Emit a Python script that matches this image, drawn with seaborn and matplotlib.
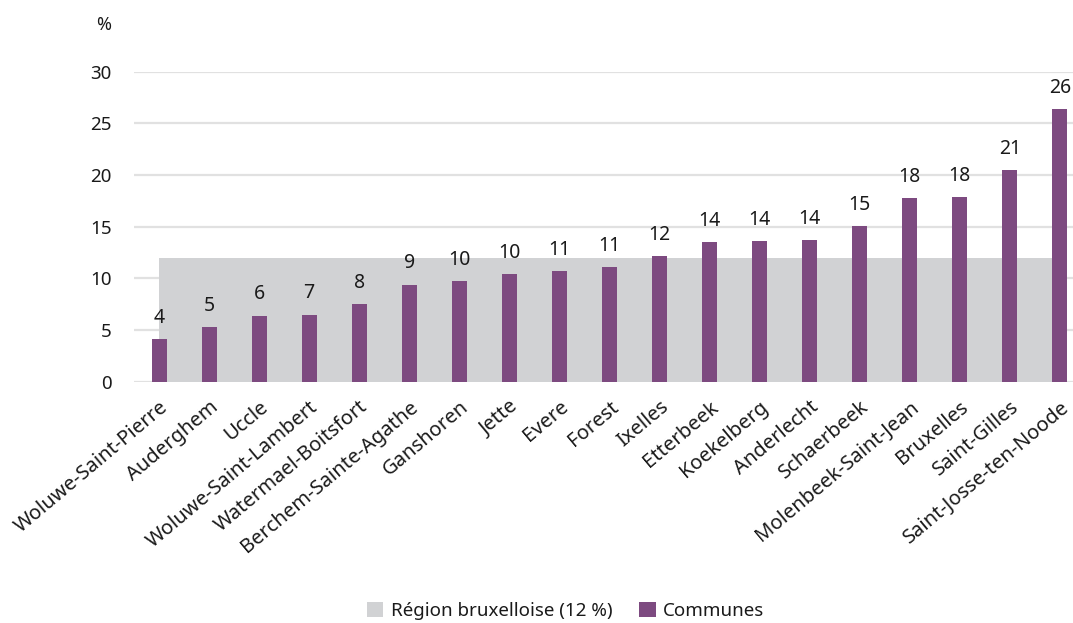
import matplotlib
matplotlib.use("Agg")
import matplotlib.pyplot as plt
from matplotlib.patches import Patch
import seaborn as sns
import pandas as pd

communes = [
    "Woluwe-Saint-Pierre", "Auderghem", "Uccle", "Woluwe-Saint-Lambert",
    "Watermael-Boitsfort", "Berchem-Sainte-Agathe", "Ganshoren", "Jette",
    "Evere", "Forest", "Ixelles", "Etterbeek", "Koekelberg", "Anderlecht",
    "Schaerbeek", "Molenbeek-Saint-Jean", "Bruxelles", "Saint-Gilles",
    "Saint-Josse-ten-Noode",
]
values = [4.1, 5.3, 6.4, 6.5, 7.5, 9.4, 9.7, 10.4, 10.7, 11.1, 12.2, 13.5,
          13.6, 13.7, 15.1, 17.8, 17.9, 20.5, 26.4]
region_value = 12
y_ticks = [0, 5, 10, 15, 20, 25, 30]

purple = "#7D4A80"
grey = "#D1D2D4"
text_col = "#1a1a1a"

sns.set_theme(style="white")
plt.rcParams["font.family"] = ["Noto Sans", "DejaVu Sans"]

df = pd.DataFrame({"commune": communes, "valeur": values})

fig = plt.figure(figsize=(10.73, 6.23), dpi=100)
ax = fig.add_axes([134 / 1073, 241.3 / 623, 951 / 1073, 310 / 623])

# regional average drawn as a flat band behind the bars
xs = list(range(len(communes)))
ax.fill_between(xs, 0, [region_value] * len(xs), color=grey, lw=0, zorder=1)

sns.barplot(data=df, x="commune", y="valeur", color=purple, width=0.3,
            saturation=1, linewidth=0, edgecolor="none", ax=ax, zorder=3)

labels = [str(int(v + 0.5)) for v in values]
ax.bar_label(ax.containers[0], labels=labels, padding=8, fontsize=14,
             color=text_col)

ax.set_ylim(0, 30)
ax.set_xlim(-0.5, len(communes) - 0.5)
ax.set_yticks(y_ticks)
ax.yaxis.grid(True, color="#E1E1E1", lw=1.6, zorder=0)
ax.set_axisbelow(True)
for s in ax.spines.values():
    s.set_visible(False)
ax.set_xlabel("")
ax.set_ylabel("")
ax.tick_params(axis="y", length=0, pad=16, labelsize=13.5, labelcolor=text_col)
ax.tick_params(axis="x", length=0, pad=11, labelsize=14.5, labelcolor=text_col)
plt.setp(ax.get_xticklabels(), rotation=40, ha="right",
         rotation_mode="anchor")

fig.text(104 / 1073, 1 - 25 / 623, "%", fontsize=13, color=text_col,
         ha="center", va="center")

handles = [Patch(facecolor=grey, edgecolor="none"),
           Patch(facecolor=purple, edgecolor="none")]
fig.legend(handles, ["Région bruxelloise (12 %)", "Communes"],
           loc="center", bbox_to_anchor=(0.527, 1 - 611 / 623), ncol=2,
           frameon=False, fontsize=13.5, handlelength=0.9, handleheight=0.9,
           handletextpad=0.4, columnspacing=1.4, labelcolor=text_col)

fig.savefig("out.png", dpi=100)
